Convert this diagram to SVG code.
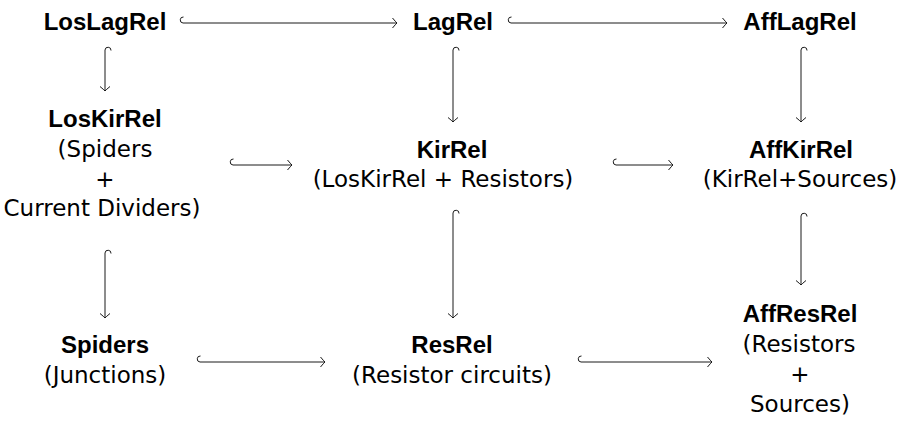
<svg xmlns="http://www.w3.org/2000/svg" width="900" height="421" viewBox="0 0 900 421">
<style>
  .b { font-family: "Liberation Sans", Arial, sans-serif; font-weight: bold; font-size: 24px; fill: #000; text-anchor: middle; }
  .r { font-family: "DejaVu Sans", "Liberation Sans", sans-serif; font-size: 23px; fill: #000; text-anchor: middle; }
  .edge { fill: none; stroke: #1a1a1a; stroke-width: 1; marker-start: url(#hook); marker-end: url(#tip); }
</style>
<defs>
  <marker id="hook" markerUnits="userSpaceOnUse" markerWidth="10" markerHeight="10" refX="0" refY="0" orient="auto" overflow="visible">
    <path d="M0,0 A3,3 0 0 1 0.5,-6" fill="none" stroke="#1a1a1a" stroke-width="1"/>
  </marker>
  <marker id="tip" markerUnits="userSpaceOnUse" markerWidth="10" markerHeight="10" refX="0" refY="0" orient="auto" overflow="visible">
    <path d="M-4.5,-5 Q-1.3,-1.1 0,0 Q-1.3,1.1 -4.5,5" fill="none" stroke="#1a1a1a" stroke-width="1"/>
  </marker>
</defs>
<rect width="900" height="421" fill="#fff"/>
<g id="LosLagRel"><text class="b" x="105" y="30">LosLagRel</text></g>
<g id="LagRel"><text class="b" x="453" y="30">LagRel</text></g>
<g id="AffLagRel"><text class="b" x="800" y="30">AffLagRel</text></g>
<g id="LosKirRel">
  <text class="b" x="105" y="127">LosKirRel</text>
  <text class="r" x="105" y="157">(Spiders</text>
  <text class="r" x="105" y="187">+</text>
  <text class="r" x="102" y="216">Current Dividers)</text>
</g>
<g id="KirRel">
  <text class="b" x="452" y="158">KirRel</text>
  <text class="r" x="443" y="187">(LosKirRel + Resistors)</text>
</g>
<g id="AffKirRel">
  <text class="b" x="801" y="158">AffKirRel</text>
  <text class="r" x="800" y="187">(KirRel+Sources)</text>
</g>
<g id="Spiders">
  <text class="b" x="105" y="353">Spiders</text>
  <text class="r" x="105" y="383">(Junctions)</text>
</g>
<g id="ResRel">
  <text class="b" x="452" y="353">ResRel</text>
  <text class="r" x="452" y="383">(Resistor circuits)</text>
</g>
<g id="AffResRel">
  <text class="b" x="800" y="322">AffResRel</text>
  <text class="r" x="799" y="352">(Resistors</text>
  <text class="r" x="800" y="382">+</text>
  <text class="r" x="800" y="412">Sources)</text>
</g>
<g id="connectors">
  <path class="edge" d="M183,23 H397"/>
  <path class="edge" d="M511,23 H727"/>
  <path class="edge" d="M233,165 H292"/>
  <path class="edge" d="M616,165 H673"/>
  <path class="edge" d="M200,362 H325"/>
  <path class="edge" d="M581,362 H712"/>
  <path class="edge" d="M105,50 V91"/>
  <path class="edge" d="M453,50 V122"/>
  <path class="edge" d="M801,50 V122"/>
  <path class="edge" d="M105,253 V318"/>
  <path class="edge" d="M453,213 V318"/>
  <path class="edge" d="M801,216 V285"/>
</g>
</svg>
